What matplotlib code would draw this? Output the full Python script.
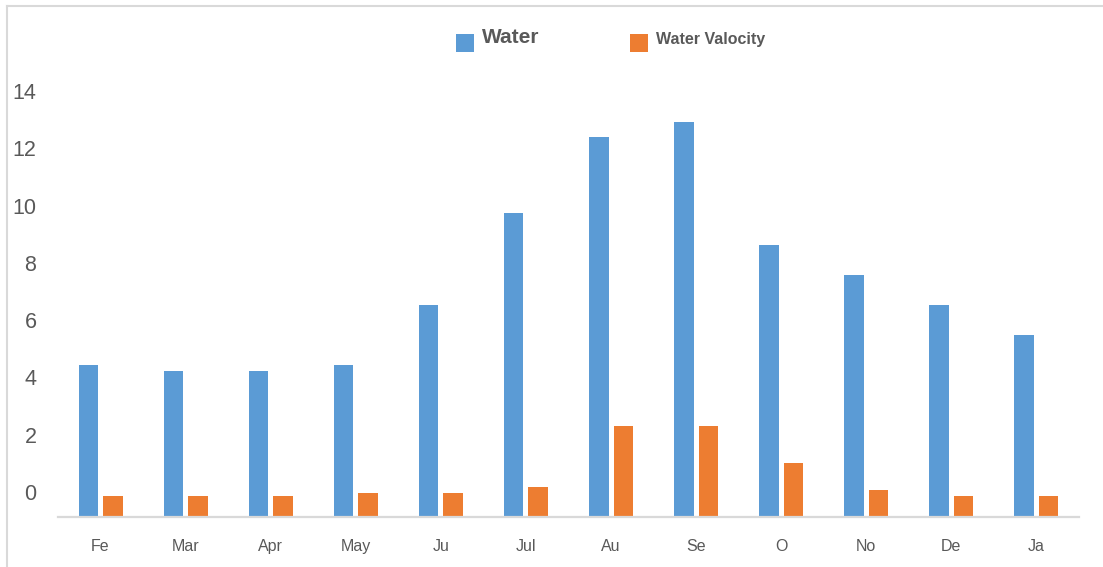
import matplotlib
matplotlib.use("Agg")
import matplotlib.pyplot as plt
import matplotlib.transforms as mtransforms
from matplotlib.patches import Rectangle
from matplotlib.lines import Line2D
import numpy as np

months = ["Fe", "Mar", "Apr", "May", "Ju", "Jul", "Au", "Se", "O", "No", "De", "Ja"]
water = [5.3, 5.1, 5.1, 5.3, 7.4, 10.6, 13.25, 13.8, 9.5, 8.45, 7.4, 6.35]
velocity = [0.73, 0.73, 0.73, 0.84, 0.84, 1.05, 3.18, 3.18, 1.88, 0.94, 0.73, 0.73]
y_ticks = [0, 2, 4, 6, 8, 10, 12, 14]

series_names = ["Water", "Water Valocity"]
blue = "#5B9BD5"
orange = "#ED7D31"
text_gray = "#595959"
line_gray = "#D9D9D9"

plt.rcParams["font.family"] = ["Liberation Sans", "DejaVu Sans"]

W, H = 1103, 567
fig = plt.figure(figsize=(W / 100, H / 100), dpi=100)

# plot area in pixel terms
left_px, right_px = 58, 1079
base_px = 517
px_per_unit = 28.65
ymax = 16
top_px = base_px - ymax * px_per_unit
ax = fig.add_axes([left_px / W, (H - base_px) / H,
                   (right_px - left_px) / W, (base_px - top_px) / H])

x = np.arange(len(months))
bw = 0.23
off = 0.144
ax.bar(x - off, water, width=bw, color=blue, zorder=2)
ax.bar(x + off, velocity, width=bw, color=orange, zorder=2)

ax.set_xlim(-0.5, len(months) - 0.5)
ax.set_ylim(0, ymax)

for s in ["top", "right", "left"]:
    ax.spines[s].set_visible(False)
ax.spines["bottom"].set_color(line_gray)
ax.spines["bottom"].set_linewidth(1.6)
ax.spines["bottom"].set_zorder(3)

ax.set_xticks(x)
ax.set_xticklabels(months, fontsize=11.5, color=text_gray)
ax.tick_params(axis="x", length=0, pad=16)

ax.set_yticks(y_ticks)
ax.set_yticklabels([str(v) for v in y_ticks], fontsize=15.5, color=text_gray)
ax.tick_params(axis="y", length=0, pad=15.5)
shift = mtransforms.ScaledTranslation(0, 25 / 100, fig.dpi_scale_trans)
for lbl in ax.get_yticklabels():
    lbl.set_transform(lbl.get_transform() + shift)

# legend along the top
def fx(px):
    return px / W

def fy(py):
    return 1 - py / H

sq = 18
fig.add_artist(Rectangle((fx(456), fy(52)), sq / W, sq / H,
                         transform=fig.transFigure, color=blue, lw=0))
fig.text(fx(482), fy(43), series_names[0], fontsize=15, fontweight="bold",
         color=text_gray, va="baseline", ha="left")
fig.add_artist(Rectangle((fx(630), fy(52)), sq / W, sq / H,
                         transform=fig.transFigure, color=orange, lw=0))
fig.text(fx(656), fy(44), series_names[1], fontsize=11.5, fontweight="bold",
         color=text_gray, va="baseline", ha="left")

# chart frame edges
fig.add_artist(Line2D([fx(7), 1], [fy(6), fy(6)], transform=fig.transFigure,
                      color=line_gray, lw=1.5))
fig.add_artist(Line2D([fx(7), fx(7)], [fy(6), 0], transform=fig.transFigure,
                      color=line_gray, lw=1.5))

fig.savefig("out.png", dpi=100)
